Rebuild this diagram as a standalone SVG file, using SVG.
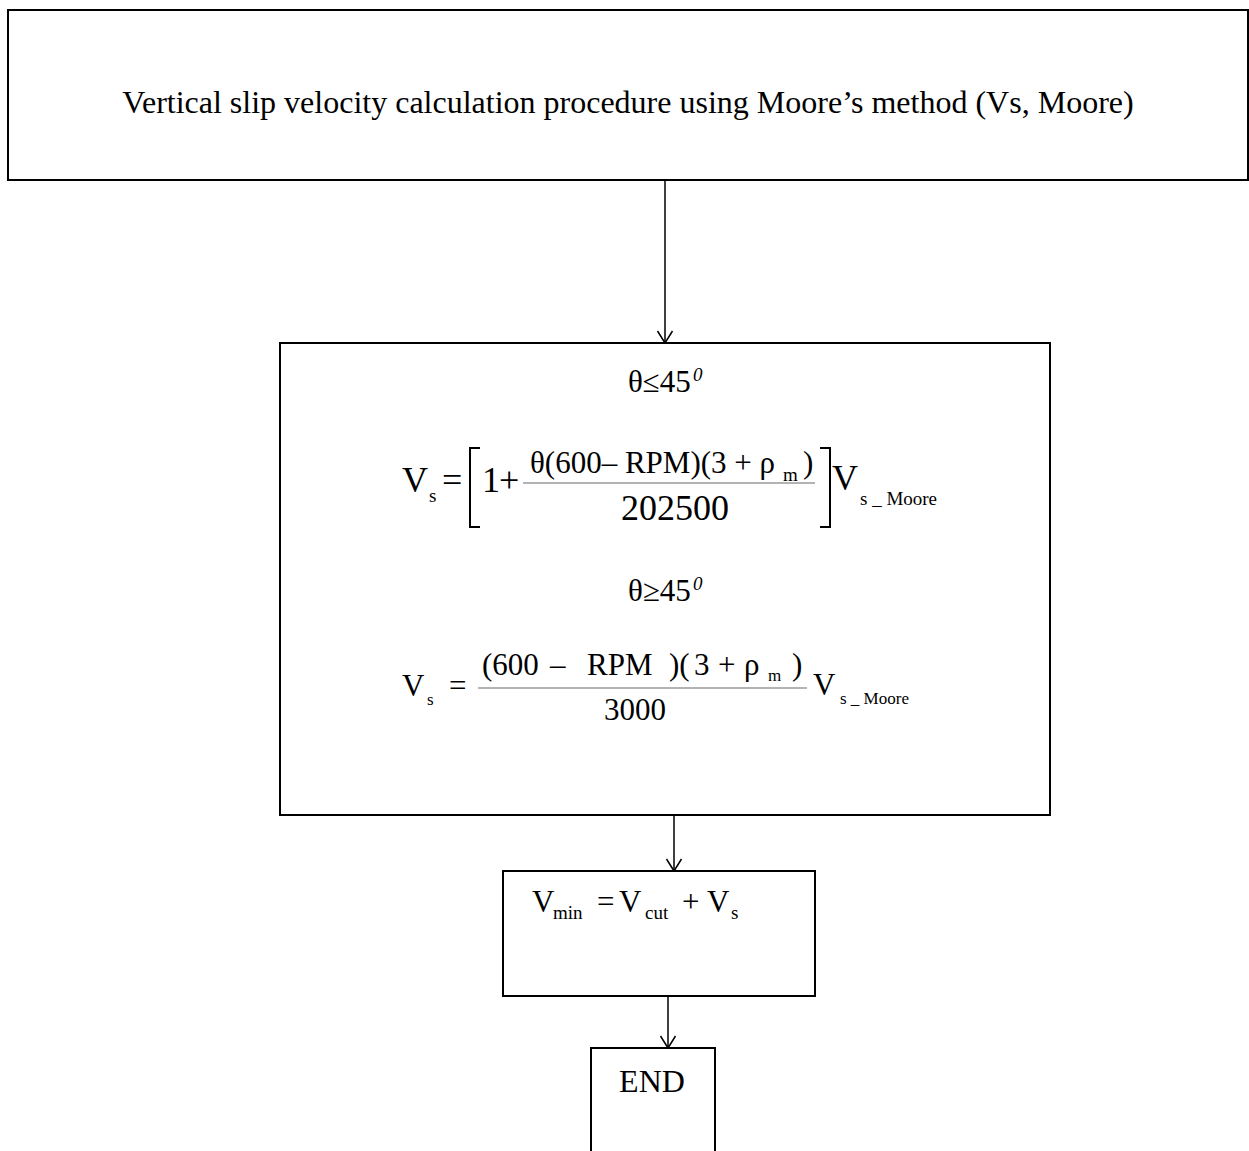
<svg xmlns="http://www.w3.org/2000/svg" width="1249" height="1151" viewBox="0 0 1249 1151">
  <style>
    .box { fill: #ffffff; stroke: #000000; stroke-width: 2; }
    .wire { fill: none; stroke: #000000; stroke-width: 1.5; }
    .bar { stroke: #9a9a9a; stroke-width: 1.5; }
    .delim { fill: none; stroke: #000000; stroke-width: 2; }
    text { font-family: "Liberation Serif", "Times New Roman", serif; fill: #000000; }
    .title { font-size: 32px; }
    .big { font-size: 36px; }
    .mid { font-size: 31px; }
    .sub { font-size: 19px; }
    .sm { font-size: 17px; }
  </style>
  <defs>
    <!-- open V arrowhead, drawn pointing along +x -->
    <marker id="arrow" markerUnits="userSpaceOnUse" markerWidth="16" markerHeight="18" refX="13" refY="8" orient="auto" viewBox="0 0 16 16">
      <path d="M1,0.5 L13,8 L1,15.5" fill="none" stroke="#000000" stroke-width="1.5"/>
    </marker>
  </defs>

  <rect width="1249" height="1151" fill="#ffffff"/>

  <!-- flow connectors -->
  <g id="connectors">
    <line class="wire" x1="665" y1="180" x2="665" y2="343" marker-end="url(#arrow)"/>
    <line class="wire" x1="674" y1="815" x2="674" y2="871" marker-end="url(#arrow)"/>
    <line class="wire" x1="668" y1="996" x2="668" y2="1048" marker-end="url(#arrow)"/>
  </g>

  <!-- heading box -->
  <g id="node-title">
    <rect class="box" x="8" y="10" width="1240" height="170"/>
    <text class="title" x="628" y="113" text-anchor="middle">Vertical slip velocity calculation procedure using Moore’s method (Vs, Moore)</text>
  </g>

  <!-- slip velocity formulas -->
  <g id="node-formulas">
    <rect class="box" x="280" y="343" width="770" height="472"/>

    <!-- case: theta <= 45 -->
    <text class="mid" x="628" y="392">θ≤45</text>
    <text class="sub" x="693" y="381" font-style="italic">0</text>

    <text class="big" x="402" y="492">V</text>
    <text class="sub" x="429" y="502">s</text>
    <text class="big" x="442" y="492">=</text>
    <path class="delim" d="M480,448 H470 V527 H480"/>
    <text class="big" x="482" y="492">1</text>
    <text class="big" x="499" y="492">+</text>
    <text class="mid" x="530" y="473">θ(600– RPM)(3 + ρ</text>
    <text class="sub" x="783" y="481">m</text>
    <text class="mid" x="803" y="473">)</text>
    <line class="bar" x1="523" y1="483" x2="815" y2="483"/>
    <text class="big" x="675" y="520" text-anchor="middle">202500</text>
    <path class="delim" d="M820,448 H830 V527 H820"/>
    <text class="big" x="832" y="490">V</text>
    <text class="sub" x="860" y="505">s _ Moore</text>

    <!-- case: theta >= 45 -->
    <text class="mid" x="628" y="601">θ≥45</text>
    <text class="sub" x="693" y="590" font-style="italic">0</text>

    <text class="mid" x="402" y="696">V</text>
    <text class="sm" x="427" y="705">s</text>
    <text class="mid" x="449" y="696">=</text>
    <text class="mid" x="482" y="675">(600</text>
    <text class="mid" x="550" y="675">–</text>
    <text class="mid" x="587" y="675">RPM</text>
    <text class="mid" x="669" y="675">)(</text>
    <text class="mid" x="694" y="675">3</text>
    <text class="mid" x="718" y="675">+</text>
    <text class="mid" x="744" y="675">ρ</text>
    <text class="sm" x="768" y="681">m</text>
    <text class="mid" x="792" y="675">)</text>
    <line class="bar" x1="478" y1="688" x2="807" y2="688"/>
    <text class="mid" x="635" y="720" text-anchor="middle">3000</text>
    <text class="mid" x="813" y="695">V</text>
    <text class="sm" x="840" y="704">s  _  Moore</text>
  </g>

  <!-- minimum velocity box -->
  <g id="node-vmin">
    <rect class="box" x="503" y="871" width="312" height="125"/>
    <text class="mid" x="532" y="912">V</text>
    <text class="sub" x="553" y="919">min</text>
    <text class="mid" x="597" y="912">=</text>
    <text class="mid" x="619" y="912">V</text>
    <text class="sub" x="645" y="919">cut</text>
    <text class="mid" x="682" y="912">+</text>
    <text class="mid" x="707" y="912">V</text>
    <text class="sub" x="731" y="919">s</text>
  </g>

  <!-- end terminal -->
  <g id="node-end">
    <rect class="box" x="591" y="1048" width="124" height="120"/>
    <text class="title" x="652" y="1092" text-anchor="middle" font-size="34">END</text>
  </g>
</svg>
